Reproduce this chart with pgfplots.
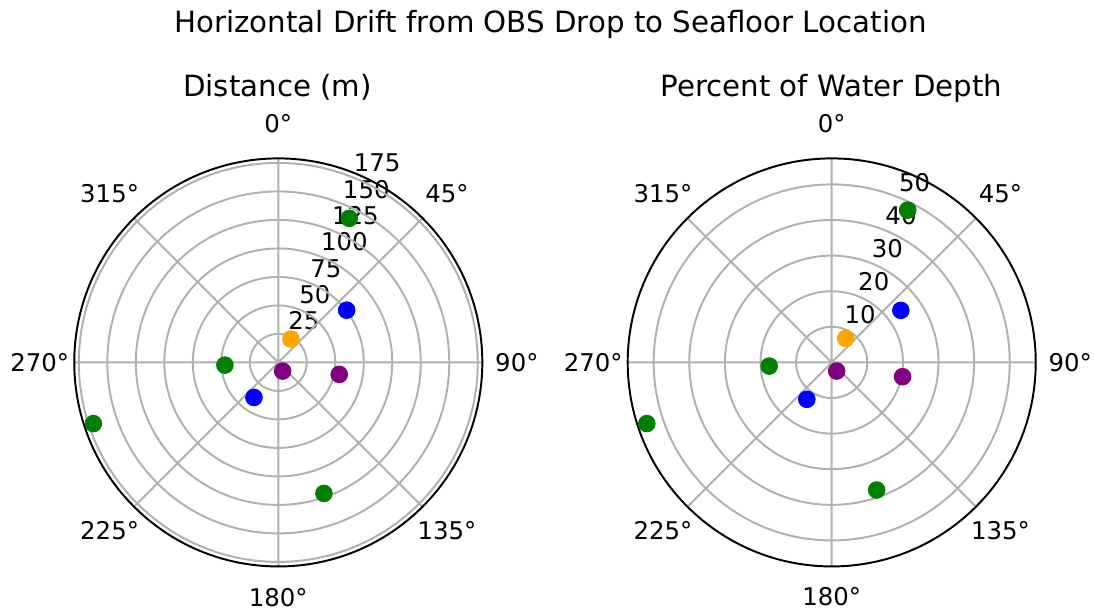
\documentclass[border=0pt]{standalone}
\usepackage{fontspec}
\setmainfont{DejaVu Sans}
\usepackage{pgfplots}
\usepgfplotslibrary{polar}
\pgfplotsset{compat=1.18}
\definecolor{mgreen}{RGB}{0,128,0}
\definecolor{mblue}{RGB}{0,0,255}
\definecolor{morange}{RGB}{255,165,0}
\definecolor{mpurple}{RGB}{128,0,128}
\definecolor{mgrid}{HTML}{B0B0B0}
\pgfplotsset{
  compassstyle/.style={
    anchor=origin,
    width=167.3pt, height=167.3pt, scale only axis,
    xmin=0, xmax=360, ymin=0,
    xtick={0,45,...,315}, xticklabels={},
    yticklabels={},
    grid=major,
    major grid style={color=mgrid, line width=0.8pt},
    separate axis lines,
    x axis line style={black, line width=0.8pt},
    y axis line style={draw=none},
    major tick length=0pt,
    axis on top, clip=false,
    x filter/.expression={mod(450-x,360)},
    every axis plot/.append style={only marks, mark=*, mark size=3.4pt},
  },
}
\newcommand{\tl}[1]{\fontsize{10}{12}\selectfont #1}
\begin{document}
\begin{tikzpicture}
\useasboundingbox (0,0) rectangle (448.54pt,249.69pt);
\node[anchor=base, inner sep=0] at (225.7pt,236.2pt) {\fontsize{12}{14}\selectfont Horizontal Drift from OBS Drop to Seafloor Location};
\node[anchor=base, inner sep=0] at (113.8pt,210.0pt) {\fontsize{12}{14}\selectfont Distance (m)};
\node[anchor=base, inner sep=0] at (340.9pt,210.0pt) {\fontsize{12}{14}\selectfont Percent of Water Depth};

% Left: distance (m); angle = compass bearing (deg), r = metres
\begin{polaraxis}[compassstyle, at={(114.1pt,101.1pt)}, ymax=179, ytick={25,50,...,175}]
\addplot[mgreen, mark options={fill=mgreen, draw=mgreen}] coordinates {(26.2,140.9) (267.1,46.9) (251.7,170.9) (160.8,121.7)};
\addplot[mblue, mark options={fill=mblue, draw=mblue}] coordinates {(52.6,75.5) (214.8,37.4)};
\addplot[morange, mark options={fill=morange, draw=morange}] coordinates {(28.5,23.3)};
\addplot[mpurple, mark options={fill=mpurple, draw=mpurple}] coordinates {(153.4,8.5) (101.1,54.5)};
\foreach \a/\l/\rr in {90/0/209.3,45/45/209.3,0/90/209.3,315/135/209.3,270/180/206.0,225/225/209.3,180/270/209.3,135/315/209.3}{
  \edef\tmp{\noexpand\node[inner sep=0, anchor=center] at (axis cs:\a,\rr) {\noexpand\tl{\l°}};}\tmp
}
\foreach \r in {25,50,75,100,125,150,175}{
  \edef\tmp{\noexpand\node[inner sep=0, anchor=south west, xshift=-0.5pt, yshift=2.2pt] at (axis cs:67.5,\r) {\noexpand\tl{\r}};}\tmp
}
\end{polaraxis}

% Right: percent of water depth
\begin{polaraxis}[compassstyle, at={(341.0pt,101.1pt)}, ymax=57.3, ytick={10,20,...,50}]
\addplot[mgreen, mark options={fill=mgreen, draw=mgreen}] coordinates {(26.5,47.8) (266.7,17.6) (251.7,54.7) (160.6,38.0)};
\addplot[mblue, mark options={fill=mblue, draw=mblue}] coordinates {(53.0,24.3) (214.0,12.5)};
\addplot[morange, mark options={fill=morange, draw=morange}] coordinates {(30.3,7.8)};
\addplot[mpurple, mark options={fill=mpurple, draw=mpurple}] coordinates {(150.0,2.8) (101.4,20.3)};
\foreach \a/\l/\rr in {90/0/67.0,45/45/67.0,0/90/67.0,315/135/67.0,270/180/65.9,225/225/67.0,180/270/67.0,135/315/67.0}{
  \edef\tmp{\noexpand\node[inner sep=0, anchor=center] at (axis cs:\a,\rr) {\noexpand\tl{\l°}};}\tmp
}
\foreach \r in {10,20,30,40,50}{
  \edef\tmp{\noexpand\node[inner sep=0, anchor=south west, xshift=-0.5pt, yshift=2.2pt] at (axis cs:67.5,\r) {\noexpand\tl{\r}};}\tmp
}
\end{polaraxis}
\end{tikzpicture}
\end{document}
